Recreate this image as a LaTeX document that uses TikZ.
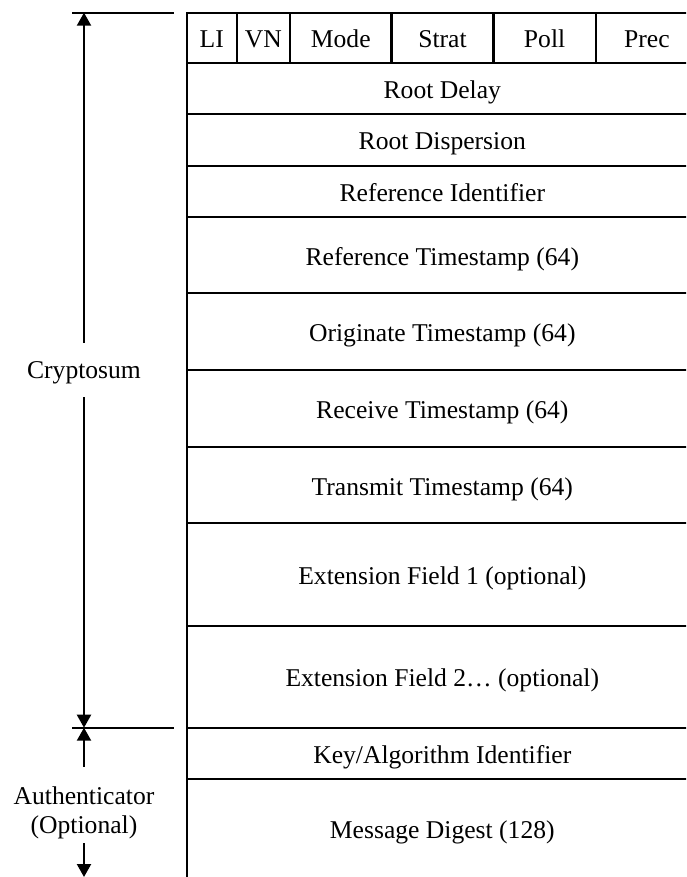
\documentclass[tikz,border=0pt]{standalone}
\usepackage{fontspec}
\setmainfont{Liberation Serif}
\usetikzlibrary{arrows.meta}

\begin{document}
\begin{tikzpicture}[x=0.5pt,y=-0.5pt,line width=1.1pt,
  every node/.style={font=\fontsize{12.8}{14.2}\selectfont,text height=10pt,text depth=0pt},
  arr/.style={-{Triangle[length=6.5pt,width=7pt]}}]
\useasboundingbox (0,0) rectangle (686,877);
\clip (0,0) rectangle (686,877);

% packet box
\draw (186.7,877) -- (186.7,12.7) -- (698,12.7) -- (698,877);

\foreach \y in {62.7,114.3,165.7,216.7,293.3,370,446.7,523.3,625.7,727.7,779}
  \draw (186.7,\y) -- (698,\y);

\foreach \x in {236.7,290,391.5,493.4,595.8}
  \draw (\x,12.7) -- (\x,62.7);

% first word
\foreach \a/\b/\t in {186.7/236.7/LI,236.7/290/VN,290/391.5/Mode,391.5/493.4/Strat,493.4/595.8/Poll,595.8/698/Prec}
  \node (\t) at ({(\a+\b)/2},37.7) {\t};

\node (rdelay) at (442.3,88.5) {Root Delay};
\node (rdisp) at (442.3,140) {Root Dispersion};
\node (refid) at (442.3,191.2) {Reference Identifier};
\node (refts) at (442.3,255) {Reference Timestamp (64)};
\node (orgts) at (442.3,331.7) {Originate Timestamp (64)};
\node (rects) at (442.3,408.3) {Receive Timestamp (64)};
\node (xmtts) at (442.3,485) {Transmit Timestamp (64)};
\node (ext1) at (442.3,574.5) {Extension Field 1 (optional)};
\node (ext2) at (442.3,676.7) {Extension Field 2… (optional)};
\node (keyid) at (442.3,753.3) {Key/Algorithm Identifier};
\node (digest) at (442.3,828) {Message Digest (128)};

% brackets on the left
\draw (72,12.7) -- (174,12.7);
\draw (72,727.7) -- (174,727.7);

\coordinate (ctop) at (84,12.7);
\coordinate (sep) at (84,727.7);
\coordinate (authup) at (84,766.7);
\coordinate (authdown) at (84,843.3);
\coordinate (bot) at (84,877);

\node[minimum height=26pt,inner sep=0pt,text height=9pt,text depth=1pt] (crypto) at (84,370) {Cryptosum};
\draw[arr] (crypto) -- (ctop);
\draw[arr] (crypto) -- (sep);

\node[align=center,text height=,text depth=] (auth) at (84,813) {Authenticator\\(Optional)};
\draw[arr] (authup) -- (sep);
\draw[arr] (authdown) -- (bot);
\end{tikzpicture}
\end{document}
